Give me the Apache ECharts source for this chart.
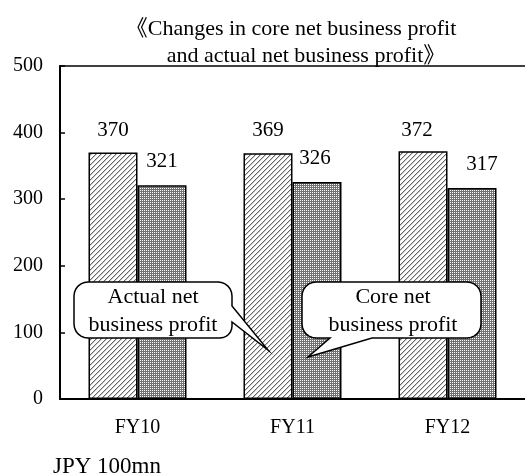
<!DOCTYPE html>
<html>
<head>
<meta charset="utf-8">
<script src="https://cdn.jsdelivr.net/npm/echarts@6/dist/echarts.min.js"></script>
<style>
    html, body { margin: 0; padding: 0; background: #fff; }
    #chart { width: 525px; height: 474px; }
</style>
</head>
<body>
<div id="chart"></div>
<script>
var categories = ['FY10', 'FY11', 'FY12'];
var actualProfit = [370, 369, 372];
var coreProfit = [321, 326, 317];
var yMin = 0, yMax = 500, yStep = 100;

var SERIF = '"Liberation Serif", "Times New Roman", "Noto Sans CJK JP", serif';

// diagonal hatch pattern
function hatchPattern() {
    var c = document.createElement('canvas');
    c.width = 5; c.height = 5;
    var ctx = c.getContext('2d');
    ctx.fillStyle = '#fff';
    ctx.fillRect(0, 0, 5, 5);
    for (var i = 0; i < 5; i++) {
        ctx.fillStyle = '#666';
        ctx.fillRect(i, 4 - i, 1, 1);
        ctx.fillStyle = '#c8c8c8';
        ctx.fillRect((i + 1) % 5, 4 - i, 1, 1);
    }
    return c;
}

// fine dotted mesh pattern
function dotPattern() {
    var c = document.createElement('canvas');
    c.width = 2; c.height = 2;
    var ctx = c.getContext('2d');
    ctx.fillStyle = '#727272';
    ctx.fillRect(0, 0, 2, 2);
    ctx.fillStyle = '#fff';
    ctx.fillRect(0, 0, 1, 1);
    return c;
}

// label nudges, like the hand placed labels of the original
var actualOffset = [[0, 0], [0, 0], [-6, 2]];
var coreOffset = [[0, 0], [-2, 0], [10, 0]];

function withOffsets(values, offsets) {
    return values.map(function (v, i) {
        return { value: v, label: { offset: offsets[i] } };
    });
}

// points of a rounded corner
function corner(pts, cx, cy, r, a0, a1) {
    for (var k = 0; k <= 6; k++) {
        var a = (a0 + (a1 - a0) * k / 6) * Math.PI / 180;
        pts.push([cx + r * Math.cos(a), cy + r * Math.sin(a)]);
    }
}

// callout 1: tail leaves the right side
function bubbleActual() {
    var p = [];
    corner(p, 88, 296, 14, 180, 270);
    corner(p, 218, 296, 14, 270, 360);
    p.push([232, 306], [268, 350], [232, 322]);
    corner(p, 220, 326, 12, 0, 90);
    corner(p, 88, 324, 14, 90, 180);
    return p;
}

// callout 2: tail leaves the bottom side
function bubbleCore() {
    var p = [];
    corner(p, 316, 296, 14, 180, 270);
    corner(p, 467, 296, 14, 270, 360);
    corner(p, 467, 324, 14, 0, 90);
    p.push([372, 338], [308, 357], [330, 338]);
    corner(p, 316, 324, 14, 90, 180);
    return p;
}

var titleStyle = {
    fontFamily: SERIF,
    fontWeight: 'normal',
    fontSize: 22,
    color: '#000'
};

var labelStyle = {
    show: true,
    position: 'top',
    fontFamily: SERIF,
    fontSize: 21,
    color: '#000'
};

var myChart = echarts.init(document.getElementById('chart'));

var option = {
    animation: false,
    backgroundColor: '#fff',
    title: [
        {
            text: '《Changes in core net business profit',
            left: 286,
            top: 13,
            textAlign: 'center',
            textStyle: titleStyle
        },
        {
            text: 'and actual net business profit》',
            left: 301,
            top: 40,
            textAlign: 'center',
            textStyle: titleStyle
        }
    ],
    grid: {
        left: 60,
        right: 0,
        top: 66,
        bottom: 75
    },
    xAxis: [
        {
            type: 'category',
            data: categories,
            axisLine: { lineStyle: { color: '#000', width: 2 } },
            axisTick: { inside: true, length: 5, lineStyle: { color: '#000', width: 1.5 } },
            axisLabel: { fontFamily: SERIF, fontSize: 20, color: '#000', margin: 19 }
        },
        {
            type: 'category',
            data: categories,
            position: 'top',
            axisLine: { lineStyle: { color: '#000', width: 1.5 } },
            axisTick: { show: false },
            axisLabel: { show: false }
        }
    ],
    yAxis: {
        type: 'value',
        min: yMin,
        max: yMax,
        interval: yStep,
        axisLine: { show: true, lineStyle: { color: '#000', width: 2 } },
        axisTick: { show: true, inside: true, length: 5, lineStyle: { color: '#000', width: 1.5 } },
        axisLabel: { fontFamily: SERIF, fontSize: 20, color: '#000', margin: 17 },
        splitLine: { show: false }
    },
    series: [
        {
            name: 'Actual net business profit',
            type: 'bar',
            barWidth: 49,
            barGap: '0%',
            data: withOffsets(actualProfit, actualOffset),
            itemStyle: {
                color: { image: hatchPattern(), repeat: 'repeat' },
                borderColor: '#000',
                borderWidth: 1.5
            },
            label: Object.assign({ distance: 12 }, labelStyle)
        },
        {
            name: 'Core net business profit',
            type: 'bar',
            barWidth: 49,
            barGap: '0%',
            data: withOffsets(coreProfit, coreOffset),
            itemStyle: {
                color: { image: dotPattern(), repeat: 'repeat' },
                borderColor: '#000',
                borderWidth: 1.5
            },
            label: Object.assign({ distance: 13 }, labelStyle)
        }
    ],
    graphic: [
        {
            type: 'polygon',
            z: 100,
            shape: { points: bubbleActual() },
            style: { fill: '#fff', stroke: '#000', lineWidth: 1.5 }
        },
        {
            type: 'text',
            z: 101,
            x: 153,
            y: 311,
            style: {
                text: 'Actual net\nbusiness profit',
                font: '22px ' + SERIF,
                fill: '#000',
                align: 'center',
                verticalAlign: 'middle',
                lineHeight: 28
            }
        },
        {
            type: 'polygon',
            z: 100,
            shape: { points: bubbleCore() },
            style: { fill: '#fff', stroke: '#000', lineWidth: 1.5 }
        },
        {
            type: 'text',
            z: 101,
            x: 393,
            y: 311,
            style: {
                text: 'Core net\nbusiness profit',
                font: '22px ' + SERIF,
                fill: '#000',
                align: 'center',
                verticalAlign: 'middle',
                lineHeight: 28
            }
        },
        {
            type: 'text',
            z: 101,
            x: 53,
            y: 467,
            style: {
                text: 'JPY 100mn',
                font: '23px ' + SERIF,
                fill: '#000',
                align: 'left',
                verticalAlign: 'middle'
            }
        }
    ]
};

myChart.setOption(option);
</script>
</body>
</html>
